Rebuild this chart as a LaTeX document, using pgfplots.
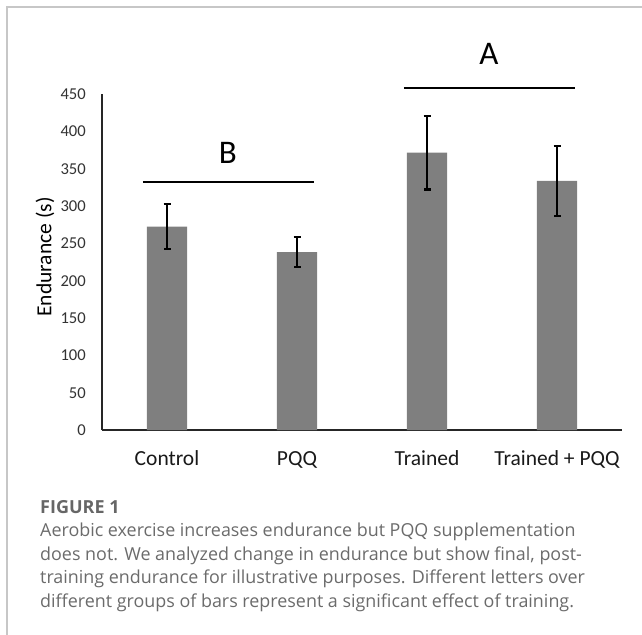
\documentclass[border=0pt]{standalone}
\usepackage{pgfplots}
\pgfplotsset{compat=1.18}
\usepackage{pgfplotstable}
\usepackage{fontspec}
\setmainfont{Carlito}
\newfontfamily\capfont{Open Sans}
\definecolor{barg}{HTML}{7F7F7F}
\definecolor{capg}{HTML}{6B6B6B}
\definecolor{figg}{HTML}{666666}
\definecolor{txt}{HTML}{333333}
\pgfplotstableread{
x y e
0 272.5 30
1 238.5 20
2 371.7 49.4
3 333.8 47
}\endurance
\begin{document}
\begin{tikzpicture}
\path[use as bounding box] (0,0) rectangle (642bp,-635bp);
\draw[color=black!22, line width=1.2bp] (7bp,-635bp) -- (7bp,-7bp) -- (642bp,-7bp);
\begin{axis}[
  at={(102bp,-430bp)}, anchor=south west,
  scale only axis, width=520bp, height=335.7bp,
  xmin=-0.5, xmax=3.5, ymin=0, ymax=450,
  ybar, bar width=0.31, bar shift=0pt,
  axis x line=bottom, axis y line=left,
  axis line style={-, line width=1.2bp, black!85},
  major tick length=0pt,
  xtick={0,1,2,3},
  xticklabels={Control, PQQ, Trained, Trained + PQQ},
  ytick={0,50,...,450},
  /pgf/number format/assume math mode=true,
  yticklabel style={font=\fontsize{16.6bp}{18bp}\selectfont, text=txt, inner sep=0pt, anchor=east, xshift=-16bp},
  xticklabel style={font=\fontsize{21.5bp}{24bp}\selectfont, text=black!90, inner sep=0pt, anchor=base, yshift=-35bp},
  clip=false,
]
\addplot[fill=barg, draw=none,
  error bars/.cd, y dir=both, y explicit,
  error bar style={line width=2.2bp, black},
  error mark options={rotate=90, mark size=3.5bp, line width=2.2bp, black}]
  table[x=x, y=y, y error=e] {\endurance};
\draw[line width=2bp, black] (axis cs:-0.185,332.4) -- (axis cs:1.131,332.4);
\draw[line width=2bp, black] (axis cs:1.823,458) -- (axis cs:3.138,458);
\node[anchor=base, inner sep=0pt, font=\fontsize{33bp}{36bp}\selectfont] at (axis cs:0.469,357.9) {B};
\node[anchor=base, inner sep=0pt, font=\fontsize{33bp}{36bp}\selectfont] at (axis cs:2.477,489.3) {A};
\end{axis}
\node[rotate=90, inner sep=0pt, font=\fontsize{21.5bp}{24bp}\selectfont, text=black] at (45bp,-257bp) {Endurance (s)};
\node[anchor=base west, inner sep=0pt, text=figg, font=\capfont\bfseries\fontsize{18bp}{20bp}\selectfont] at (40bp,-513bp) {FIGURE 1};
\begin{scope}[every node/.style={anchor=base west, inner sep=0pt, text=capg, font=\capfont\fontsize{17.9bp}{20bp}\selectfont}]
\node at (40bp,-536bp) {Aerobic exercise increases endurance but PQQ supplementation};
\node at (40bp,-560bp) {does not. We analyzed change in endurance but show final, post-};
\node at (40bp,-583bp) {training endurance for illustrative purposes. Different letters over};
\node at (40bp,-607bp) {different groups of bars represent a significant effect of training.};
\end{scope}
\end{tikzpicture}
\end{document}
